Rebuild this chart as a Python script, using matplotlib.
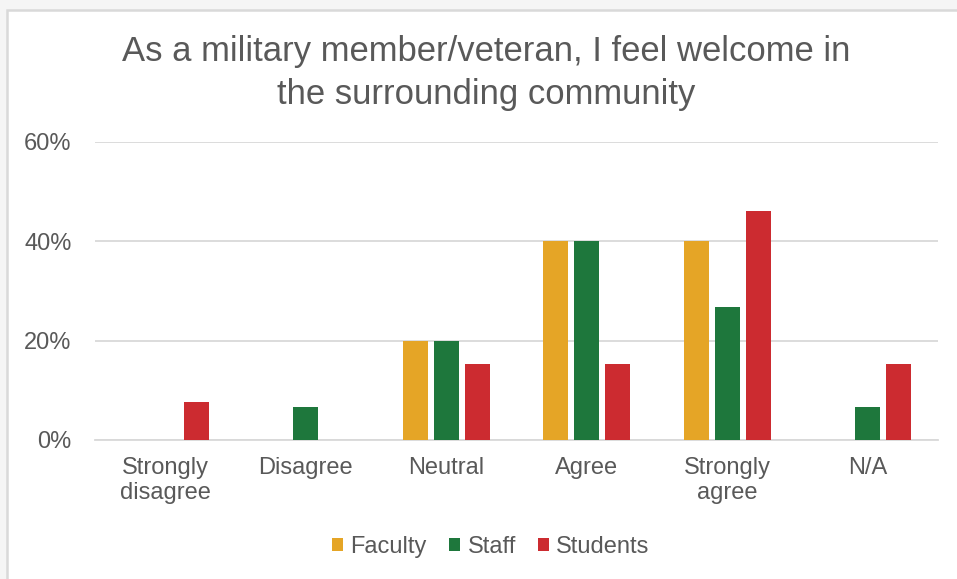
import matplotlib
matplotlib.use("Agg")
import matplotlib.pyplot as plt
import numpy as np
from matplotlib.patches import Rectangle

categories = ["Strongly\ndisagree", "Disagree", "Neutral", "Agree", "Strongly\nagree", "N/A"]
faculty = [0.0, 0.0, 0.20, 0.40, 0.40, 0.0]
staff = [0.0, 0.067, 0.20, 0.40, 0.267, 0.067]
students = [0.077, 0.0, 0.154, 0.154, 0.462, 0.154]
series_names = ["Faculty", "Staff", "Students"]
colors = ["#E5A526", "#1E773C", "#CC2B30"]
yticks = [0, 0.2, 0.4, 0.6]
ytick_labels = ["0%", "20%", "40%", "60%"]

plt.rcParams["font.family"] = ["Liberation Sans", "DejaVu Sans"]
text_color = "#595959"

W, H = 957, 579
fig = plt.figure(figsize=(W / 100, H / 100), dpi=100, facecolor="#F5F5F5")

# white chart area with light border on top and left
fig.patches.append(Rectangle((7.5 / W, -0.5), 2.0, 1.5 - 9.5 / H, transform=fig.transFigure,
                             facecolor="white", edgecolor="#D9D9D9", linewidth=1.8, zorder=-5))

ax = fig.add_axes([95 / W, 1 - 440 / H, (938 - 95) / W, (440 - 142) / H])
ax.set_facecolor("none")

x = np.arange(len(categories))
width = 0.178
offset = 0.222
for i, (vals, name, c) in enumerate(zip([faculty, staff, students], series_names, colors)):
    ax.bar(x + (i - 1) * offset, vals, width, color=c, label=name, zorder=3)

ax.set_xlim(-0.5, len(categories) - 0.5)
ax.set_ylim(0, 0.6)
ax.set_yticks(yticks)
ax.set_yticklabels(ytick_labels)
ax.set_xticks(x)
ax.set_xticklabels(categories, linespacing=1.22)
ax.tick_params(axis="both", length=0, labelsize=17, colors=text_color)
ax.tick_params(axis="y", pad=17)
ax.tick_params(axis="x", pad=12)
ax.grid(axis="y", color="#D9D9D9", linewidth=1.3, zorder=0)
for s in ["top", "right", "left"]:
    ax.spines[s].set_visible(False)
ax.spines["bottom"].set_color("#D9D9D9")
ax.spines["bottom"].set_linewidth(1.3)

fig.text(486.5 / W, 1 - 73 / H, "As a military member/veteran, I feel welcome in\nthe surrounding community",
         ha="center", va="center", fontsize=24.9, color=text_color, linespacing=1.42)

leg = fig.legend(loc="center", bbox_to_anchor=(491 / W, 1 - 547 / H), ncol=3, frameon=False,
                 fontsize=17, handlelength=0.47, handleheight=0.47, handletextpad=0.3,
                 columnspacing=0.95)
for t in leg.get_texts():
    t.set_color(text_color)

fig.savefig("out.png", dpi=100, facecolor=fig.get_facecolor())
